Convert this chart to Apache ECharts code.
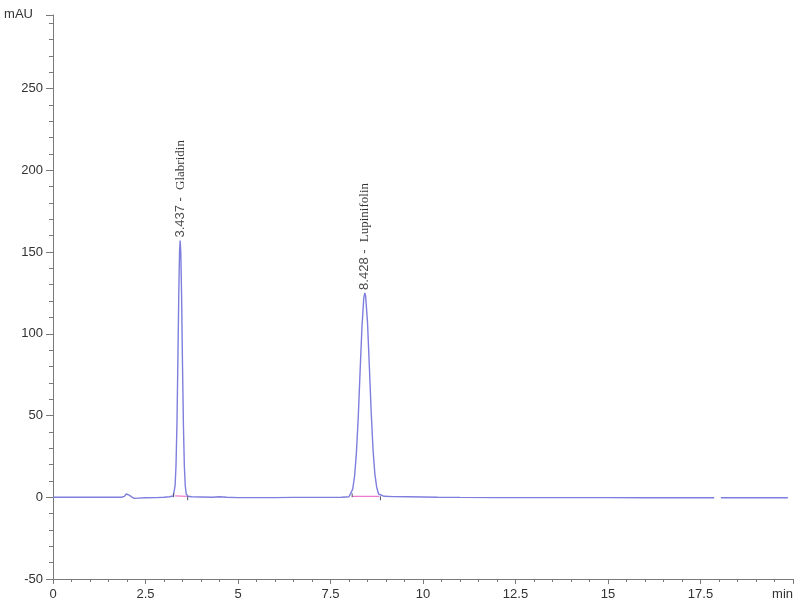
<!DOCTYPE html>
<html>
<head>
<meta charset="utf-8">
<script src="https://cdn.jsdelivr.net/npm/echarts@6/dist/echarts.min.js"></script>
<style>
  html, body { margin: 0; padding: 0; background: #fff; }
  #chart { width: 800px; height: 603px; }
</style>
</head>
<body>
<div id="chart"></div>
<script>
// ---- Data ----
var times = [0.00, 0.50, 1.00, 1.50, 1.85, 1.93, 1.98, 2.02, 2.06, 2.12, 2.20, 2.30, 2.50, 2.80, 3.00, 3.15, 3.25,
  3.30, 3.325, 3.35, 3.375, 3.40, 3.42, 3.437, 3.455, 3.475, 3.50, 3.525, 3.55, 3.575, 3.60, 3.65, 3.75,
  4.00, 4.30, 4.50, 4.70, 5.00, 5.50, 6.00, 6.50, 7.00, 7.50, 7.80, 8.00,
  8.10, 8.15, 8.20, 8.25, 8.30, 8.35, 8.40, 8.428, 8.45, 8.50, 8.55, 8.60, 8.65, 8.70, 8.75, 8.80, 8.85, 8.95,
  9.20, 9.60, 10.00, 10.40, 11.00, 12.00, 13.00, 14.00, 15.00, 16.00, 17.00, 17.87, 17.95, 18.05, 19.00, 19.86];
var signal = [0, 0, 0, 0, 0, 0.5, 2.0, 1.0, 1.3, 0.3, -0.7, -0.5, -0.3, -0.2, 0, 0.3, 0.8,
  7, 19.6, 45, 83, 125, 150, 157, 149, 124, 81, 44, 19, 7, 2, 0.6, 0.3,
  0.2, 0, 0.3, 0, -0.2, -0.2, -0.2, -0.1, -0.1, -0.1, 0, 0.3,
  5, 12.7, 27, 49, 77, 104, 122, 125, 123, 107, 80, 52, 29, 14, 6, 2, 1, 0.6,
  0.4, 0.3, 0.2, 0, -0.1, -0.2, -0.2, -0.2, -0.2, -0.3, -0.3, -0.3, null, -0.3, -0.3, -0.3];

var peakTimes = [3.437, 8.428];
var peakHeights = [157, 125];
var peakNames = ['Glabridin', 'Lupinifolin'];

// integration baselines (start/end time and level)
var baseStart = [3.30, 8.08];
var baseEnd = [3.62, 8.82];
var baseStartLevel = [0.8, 0.6];
var baseEndLevel = [0.6, 0.6];

// peak start / end markers: [time, top, bottom]
var markerTimes = [3.26, 3.64, 8.085, 8.85];
var markerTops = [2.4, 0.6, 2.4, 0.6];
var markerBottoms = [0, -1.8, 0, -1.8];

var xTickLabels = { 0: '0', 2.5: '2.5', 5: '5', 7.5: '7.5', 10: '10', 12.5: '12.5', 15: '15', 17.5: '17.5', 20: 'min' };

// ---- Build series data ----
var mainData = times.map(function (t, i) { return [t, signal[i] === null ? '-' : signal[i]]; });
var baseData = [];
for (var i = 0; i < baseStart.length; i++) {
  baseData.push([baseStart[i], baseStartLevel[i]]);
  baseData.push([baseEnd[i], baseEndLevel[i]]);
  baseData.push([(baseEnd[i] + (i + 1 < baseStart.length ? baseStart[i + 1] : baseEnd[i] + 1)) / 2, '-']);
}
var markerSeries = markerTimes.map(function (t, i) {
  return {
    type: 'line', silent: true, symbol: 'none', animation: false, z: 4,
    lineStyle: { color: '#505070', width: 1 },
    data: [[t, markerTops[i]], [t, markerBottoms[i]]]
  };
});
var peakData = peakTimes.map(function (t, i) { return { value: [t, peakHeights[i]], name: peakNames[i] }; });

var chart = echarts.init(document.getElementById('chart'), null, { renderer: 'canvas' });
var axisColor = '#7a7a7a';
var labelColor = '#333';
var option = {
  backgroundColor: '#fff',
  animation: false,
  grid: { left: 53, right: 7, top: 15, bottom: 24, containLabel: false, outerBoundsMode: 'none' },
  xAxis: {
    type: 'value', min: 0, max: 20, interval: 2.5,
    axisLine: { onZero: false, lineStyle: { color: axisColor, width: 1 } },
    axisTick: { show: true, length: 5, lineStyle: { color: axisColor } },
    minorTick: { show: true, splitNumber: 5, length: 3, lineStyle: { color: axisColor } },
    splitLine: { show: false },
    axisLabel: {
      margin: 9, color: labelColor, fontSize: 13, fontFamily: 'Liberation Sans',
      alignMaxLabel: 'right',
      formatter: function (v) { return xTickLabels[v] !== undefined ? xTickLabels[v] : ''; }
    }
  },
  yAxis: {
    type: 'value', min: -50, max: 295, interval: 50,
    name: 'mAU', nameLocation: 'end', nameGap: 1,
    nameTextStyle: { align: 'right', verticalAlign: 'middle', padding: [0, 20, 0, 0], color: labelColor, fontSize: 13, fontFamily: 'Liberation Sans' },
    axisLine: { show: true, lineStyle: { color: axisColor, width: 1 } },
    axisTick: { show: true, length: 7, lineStyle: { color: axisColor } },
    minorTick: { show: true, splitNumber: 5, length: 4, lineStyle: { color: axisColor } },
    splitLine: { show: false },
    axisLabel: { showMaxLabel: false, margin: 10, color: labelColor, fontSize: 13, fontFamily: 'Liberation Sans' }
  },
  series: [
    {
      type: 'line', name: 'signal', data: mainData, symbol: 'none', showSymbol: false,
      connectNulls: false, z: 3,
      lineStyle: { color: '#7e7ede', width: 1.4 }
    },
    {
      type: 'line', name: 'baseline', data: baseData, symbol: 'none', connectNulls: false, z: 2,
      lineStyle: { color: '#f07ad0', width: 1.2 }
    },
    {
      type: 'scatter', name: 'peaks', data: peakData, symbolSize: 0, z: 5,
      label: {
        show: true, position: 'top', distance: 3, rotate: 90, align: 'left', verticalAlign: 'middle',
        formatter: function (p) { return '{n|' + p.value[0].toFixed(3) + ' -  }{g|' + p.name + '}'; },
        rich: {
          n: { fontFamily: 'Liberation Sans', fontSize: 13, color: '#1a1a1a' },
          g: { fontFamily: 'Liberation Serif', fontSize: 13, color: '#000' }
        }
      }
    }
  ].concat(markerSeries)
};
chart.setOption(option);
</script>
</body>
</html>
